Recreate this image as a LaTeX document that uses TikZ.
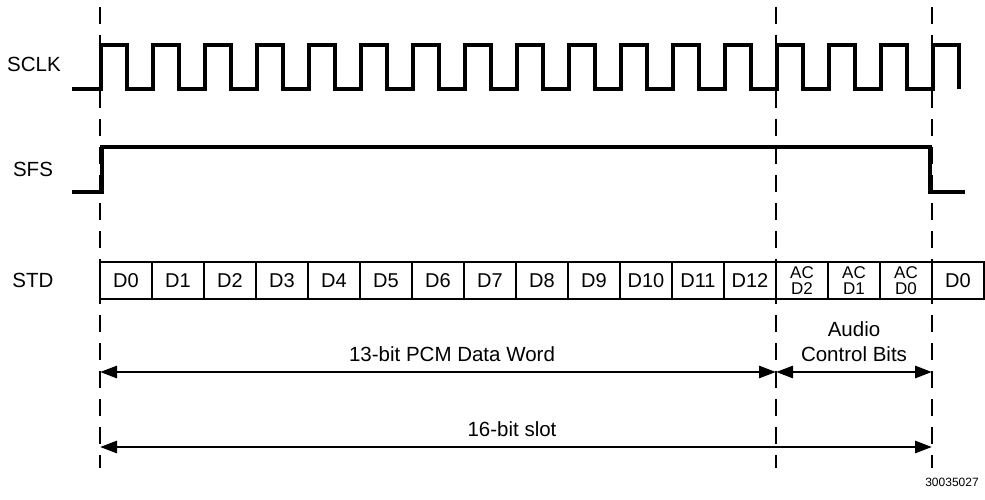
\documentclass[tikz,border=0pt]{standalone}
\usepackage{fontspec}
\setmainfont{Liberation Sans}
\usetikzlibrary{arrows.meta}

\newcommand{\acfont}{\fontsize{17}{16}\selectfont}
\newcommand{\acbit}[1]{\acfont AC\\\acfont #1}

\tikzset{
  wave/.style={line width=3.2pt, line join=miter},
  guide/.style={line width=1.3pt, dash pattern=on 17pt off 11pt},
  bitbox/.style={draw, line width=2pt, minimum width=52pt, minimum height=37pt,
    inner sep=0pt, align=center, font=\fontsize{20}{16}\selectfont},
  dim/.style={line width=2.8pt, {Triangle[length=17pt,width=12pt]}-{Triangle[length=17pt,width=12pt]}},
  lbl/.style={inner sep=0pt, align=center, font=\fontsize{20.5}{25}\selectfont},
}

\begin{document}
\begin{tikzpicture}[x=1pt, y=-1pt]
    \useasboundingbox (0,0) rectangle (985,500);
    % slot boundaries
    \foreach \gx [count=\g] in {100,776,932} {
        \coordinate (top\g) at (\gx,7);
        \coordinate (bot\g) at (\gx,468);
        \draw[guide] (top\g) -- (bot\g);
    }
    \node[lbl] (sclk) at (34,64) {SCLK};
    \node[lbl] (sfs) at (33,169) {SFS};
    \node[lbl] (std) at (33,280) {STD};
    % 16 clock periods, 52 each
    \draw[wave] (72,89) -- (101,89)
        \foreach \i in {1,...,16} { -- ++(0,-44) -- ++(26,0) -- ++(0,44) -- ++(26,0) }
        -- ++(0,-44) -- ++(26,0) -- ++(0,44);
    \draw[wave] (72,192) -- (102,192) -- (102,147) -- (930,147) -- (930,192) -- (965,192);
    \foreach \lbl [count=\i from 0] in {D0,D1,D2,D3,D4,D5,D6,D7,D8,D9,D10,D11,D12,
        {\acbit{D2}},{\acbit{D1}},{\acbit{D0}},D0}
        \node[bitbox] (bit\i) at ({126+52*\i},280.5) {\lbl};
    \coordinate (pcmL) at (100,372);
    \coordinate (pcmR) at (776,372);
    \coordinate (acR) at (932,372);
    \coordinate (slotL) at (100,447);
    \coordinate (slotR) at (932,447);
    \draw[dim] (pcmL) -- (pcmR);
    \draw[dim] (pcmR) -- (acR);
    \draw[dim] (slotL) -- (slotR);
    \node[lbl] (pcm) at (452,354) {13-bit PCM Data Word};
    \node[lbl] (acb) at (854,342) {Audio\\Control Bits};
    \node[lbl] (slot) at (512,429) {16-bit slot};
    \node[inner sep=0pt, font=\fontsize{12}{12}\selectfont] (fig) at (952,482) {30035027};
\end{tikzpicture}
\end{document}
